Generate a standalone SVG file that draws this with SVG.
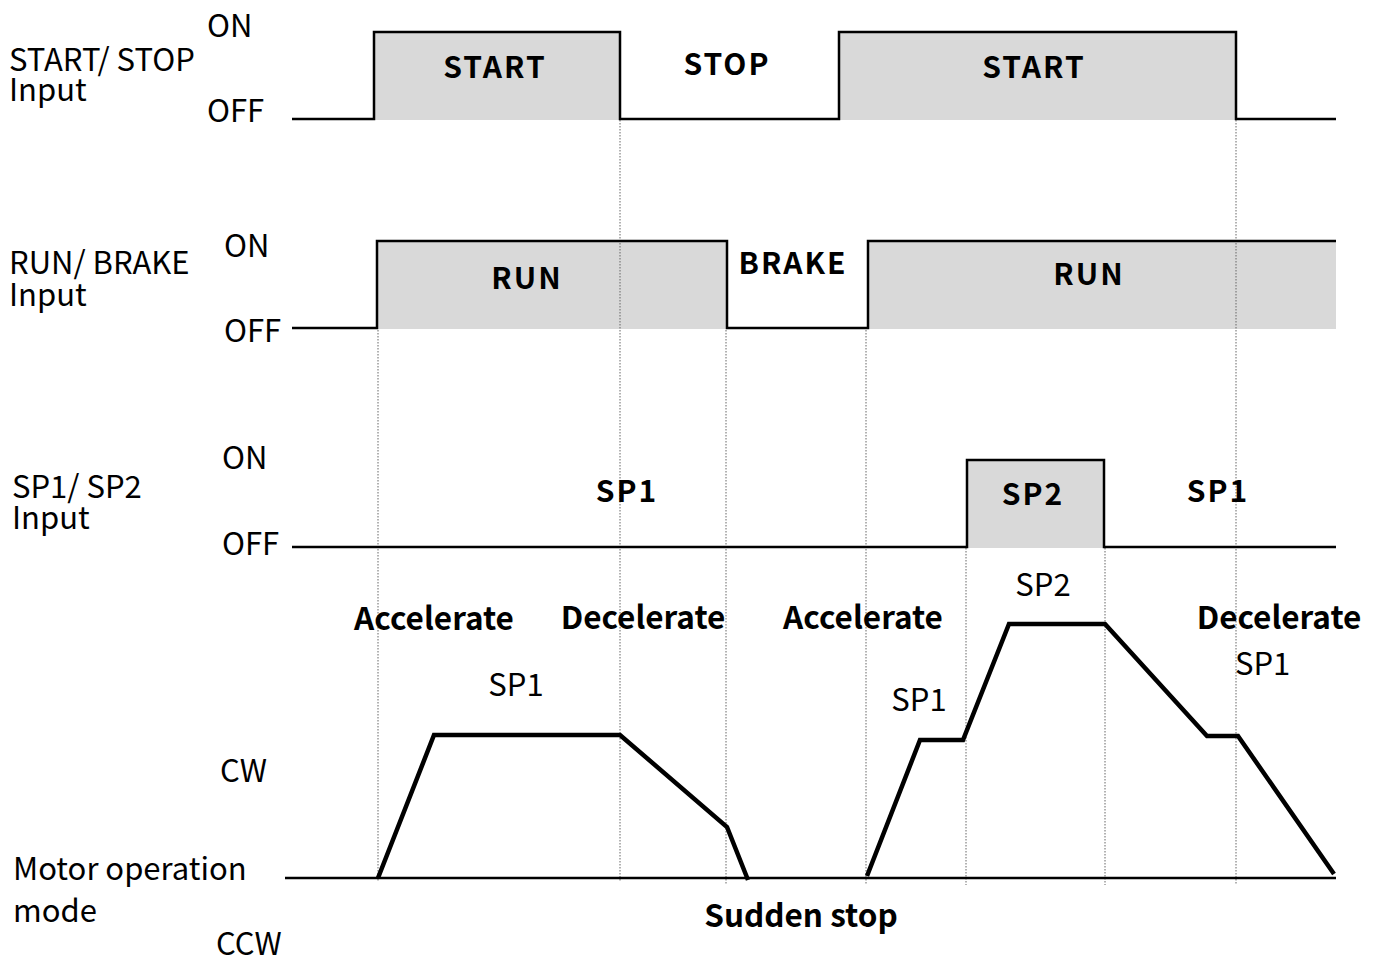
<svg xmlns="http://www.w3.org/2000/svg" width="1378" height="959" viewBox="0 0 1378 959">
<style>
text{font-family:"Noto Sans CJK JP","Noto Sans",sans-serif;fill:#000}
.lbl{font-size:31px}
.b{font-size:30px;font-weight:bold;letter-spacing:2px}
.bm{font-size:31.5px;font-weight:bold}
.sig{fill:none;stroke:#000;stroke-width:2.5;stroke-linejoin:miter}
.fill{fill:#d9d9d9;stroke:none}
.dot{stroke:#666;stroke-width:1;stroke-dasharray:1.5 1.5;fill:none}
.motor{fill:none;stroke:#000;stroke-width:4.5;stroke-linejoin:miter}
</style>
<rect width="1378" height="959" fill="#fff"/>
<g id="fills">
<rect class="fill" x="374" y="32" width="246" height="88"/>
<rect class="fill" x="839" y="32" width="397" height="88"/>
<rect class="fill" x="377" y="241" width="350" height="88"/>
<rect class="fill" x="868" y="241" width="468" height="88"/>
<rect class="fill" x="967" y="460" width="137" height="88"/>
</g>
<g id="connectors">
<line class="dot" x1="378" y1="330" x2="378" y2="882"/>
<line class="dot" x1="620" y1="120" x2="620" y2="882"/>
<line class="dot" x1="726" y1="330" x2="726" y2="885"/>
<line class="dot" x1="866" y1="330" x2="866" y2="885"/>
<line class="dot" x1="966" y1="548" x2="966" y2="885"/>
<line class="dot" x1="1105" y1="548" x2="1105" y2="885"/>
<line class="dot" x1="1236" y1="120" x2="1236" y2="885"/>
</g>
<g id="start-stop">
<polyline class="sig" points="292,119 374,119 374,32 620,32 620,119 839,119 839,32 1236,32 1236,119 1336,119"/>
<text class="lbl" x="9" y="71">START/ STOP<tspan x="9" dy="30">Input</tspan></text>
<text class="lbl" x="207" y="37">ON</text>
<text class="lbl" x="207" y="122">OFF</text>
<text class="b" x="495" y="78" text-anchor="middle">START</text>
<text class="b" x="727" y="75" text-anchor="middle">STOP</text>
<text class="b" x="1034" y="78" text-anchor="middle">START</text>
</g>
<g id="run-brake">
<polyline class="sig" points="292,328 377,328 377,241 727,241 727,328 868,328 868,241 1336,241"/>
<text class="lbl" x="9" y="274">RUN/ BRAKE<tspan x="9" dy="32">Input</tspan></text>
<text class="lbl" x="224" y="257">ON</text>
<text class="lbl" x="224" y="342">OFF</text>
<text class="b" x="527" y="289" text-anchor="middle">RUN</text>
<text class="b" x="793" y="274" text-anchor="middle">BRAKE</text>
<text class="b" x="1089" y="285" text-anchor="middle">RUN</text>
</g>
<g id="sp1-sp2">
<polyline class="sig" points="292,547 967,547 967,460 1104,460 1104,547 1336,547"/>
<text class="lbl" x="12" y="498">SP1/ SP2<tspan x="12" dy="31">Input</tspan></text>
<text class="lbl" x="222" y="469">ON</text>
<text class="lbl" x="222" y="555">OFF</text>
<text class="b" x="627" y="502" text-anchor="middle">SP1</text>
<text class="b" x="1033" y="505" text-anchor="middle">SP2</text>
<text class="b" x="1218" y="502" text-anchor="middle">SP1</text>
</g>
<g id="motor">
<line class="sig" x1="285" y1="878" x2="1336" y2="878"/>
<polyline class="motor" points="378,878 434,735 620,735 727,827 748,880"/>
<polyline class="motor" points="867,876 920,740 963,740 1009,624 1105,624 1207,736 1238,736 1334,874"/>
<text class="lbl" x="220" y="782">CW</text>
<text class="lbl" x="13" y="880">Motor operation<tspan x="13" dy="42">mode</tspan></text>
<text class="lbl" x="216" y="955">CCW</text>
<text class="bm" x="434" y="630" text-anchor="middle">Accelerate</text>
<text class="bm" x="643" y="629" text-anchor="middle">Decelerate</text>
<text class="bm" x="863" y="629" text-anchor="middle">Accelerate</text>
<text class="bm" x="1279" y="629" text-anchor="middle">Decelerate</text>
<text class="bm" x="801" y="927" text-anchor="middle">Sudden stop</text>
<text class="lbl" x="516" y="696" text-anchor="middle">SP1</text>
<text class="lbl" x="919" y="711" text-anchor="middle">SP1</text>
<text class="lbl" x="1043" y="596" text-anchor="middle">SP2</text>
<text class="lbl" x="1235" y="675">SP1</text>
</g>
</svg>
